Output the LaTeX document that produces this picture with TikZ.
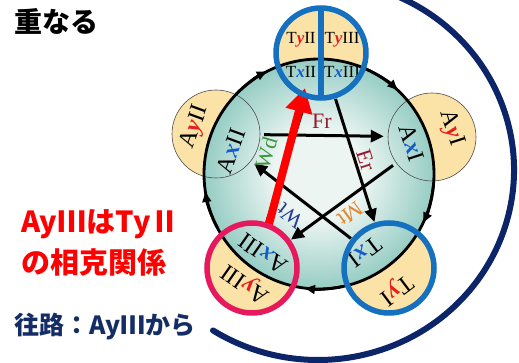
\documentclass[tikz,border=0pt]{standalone}
\usepackage{fontspec}
\setmainfont{Liberation Serif}
\newfontfamily\jp{Noto Sans CJK JP}
\usetikzlibrary{arrows.meta,calc}
\definecolor{yel}{RGB}{251,226,166}
\definecolor{tealin}{RGB}{236,245,242}
\definecolor{tealout}{RGB}{150,205,196}
\definecolor{ringblue}{RGB}{22,112,192}
\definecolor{ringpink}{RGB}{230,25,95}
\definecolor{navy}{RGB}{12,36,104}
\definecolor{xblue}{RGB}{20,90,200}
\definecolor{yred}{RGB}{230,30,30}
\definecolor{frred}{RGB}{150,25,45}
\definecolor{mtor}{RGB}{225,135,45}
\definecolor{wtblue}{RGB}{40,60,150}
\definecolor{wdgreen}{RGB}{60,150,60}
\definecolor{jpnavy}{RGB}{20,45,100}
\pgfdeclareradialshading{tealshade}{\pgfpoint{0bp}{0bp}}{color(0bp)=(tealin); color(10bp)=(tealin); color(25bp)=(tealout); color(50bp)=(tealout)}
\newcommand\lab[4]{#1{\color{#2}\bfseries\itshape #3}#4}
\begin{document}
\begin{tikzpicture}[x=1pt,y=1pt,
  hub/.style={circle,minimum size=96pt,inner sep=0pt},
  ctext/.style={font=\fontsize{24}{24}\selectfont,inner sep=0pt},
  ttext/.style={font=\fontsize{17}{17}\selectfont,inner sep=0pt},
  slab/.style={font=\fontsize{22}{22}\selectfont,inner sep=0pt},
  starline/.style={black,line width=3pt,-{Triangle[length=13pt,width=12pt]}},
  cycarrow/.style={black,line width=2.8pt,-{Latex[length=12pt,width=10pt]}},
  ring/.style={line width=5.5pt},
  thinc/.style={draw=black!70,line width=0.6pt},
  jptext/.style={font=\jp\bfseries,inner sep=0pt,anchor=west}]
\useasboundingbox (0,0) rectangle (519,362);
\fill[white] (0,0) rectangle (519,362);
% coordinates
\coordinate (C) at (319,188);
\coordinate (N) at (318,192);
\node[hub] (T) at (321,309) {};
\node[hub] (R) at (432,225) {};
\node[hub] (BR) at (389,94) {};
\node[hub] (BL) at (252,94) {};
\node[hub] (L) at (216,228) {};
% navy arc
\draw[navy,line width=6pt,line cap=round] ($(N)+(75:196 and 190)$) arc[start angle=75,end angle=-122.4,x radius=196,y radius=190];
% small circle fills
\foreach \n in {T,R,BR,BL,L} \fill[yel] (\n.center) circle (44);
% big circle
\shade[shading=tealshade] (C) circle (115);
% thin outlines
\foreach \n in {T,R,BR,BL,L} \draw[thinc] (\n.center) circle (44);
% big circle outline
\draw[black,line width=2.8pt] (C) circle (115);
\draw[cycarrow] (C) ++(136:115) arc[start angle=136,end angle=116,radius=115];
\draw[cycarrow] (C) ++(66:115) arc[start angle=66,end angle=46,radius=115];
\draw[cycarrow] (C) ++(-6:115) arc[start angle=-6,end angle=-26,radius=115];
\draw[cycarrow] (C) ++(-78:115) arc[start angle=-78,end angle=-98,radius=115];
\draw[cycarrow] (C) ++(208:115) arc[start angle=208,end angle=188,radius=115];
% star
\draw[starline] (L) -- (R);
\draw[starline] (T) -- (BR);
\draw[starline] (R) -- (BL);
\draw[starline] (BR) -- (L);
\draw[starline] (BL) -- (T);
% star labels
\node[slab,text=frred] (fr) at (322,241) {Fr};
\node[slab,text=frred,rotate=-72] (er) at (366,202) {Er};
\node[slab,text=mtor,rotate=216] (mt) at (350,148) {Mt};
\node[slab,text=wtblue,rotate=142] (wt) at (290,146) {Wt};
\node[slab,text=wdgreen,rotate=73] (wd) at (266,209) {Wd};
% circle texts
\node[ctext,rotate=70] (lx) at (231,211) {\lab{A}{xblue}{x}{II}};
\node[ctext,rotate=70] (ly) at (195,235) {\lab{A}{yred}{y}{II}};
\node[ctext,rotate=-72] (rx) at (412,219) {\lab{A}{xblue}{x}{I}};
\node[ctext,rotate=-72] (ry) at (451,234) {\lab{A}{yred}{y}{I}};
\node[ctext,rotate=-143] (brx) at (365,110) {\lab{T}{xblue}{x}{I}};
\node[ctext,rotate=-143] (bry) at (396,73) {\lab{T}{yred}{y}{I}};
\node[ctext,rotate=145] (blx) at (263,108) {\lab{A}{xblue}{x}{III}};
\node[ctext,rotate=145] (bly) at (246,79) {\lab{A}{yred}{y}{III}};
\node[ttext] (t1) at (301,322) {\lab{T}{yred}{y}{II}};
\node[ttext] (t2) at (342,322) {\lab{T}{yred}{y}{III}};
\node[ttext] (t3) at (301,290) {\lab{T}{xblue}{x}{II}};
\node[ttext] (t4) at (342,290) {\lab{T}{xblue}{x}{III}};
% red arrow
\coordinate (rs) at (269,138);
\coordinate (re) at (305,274);
\draw[red,line width=8pt,-{Triangle[length=24pt,width=26pt]}] (rs) -- (re);
% rings
\draw[ringblue,ring] (T.center) circle (45);
\draw[ringblue,ring] ($(T.center)+(0,45)$) -- ($(T.center)+(0,-45)$);
\draw[ringblue,ring] (BR.center) circle (45);
\draw[ringpink,ring] (BL.center) circle (45);
% japanese texts
\node[jptext,font=\jp\bfseries\fontsize{28}{28}\selectfont] (j1) at (14,340) {重なる};
\node[jptext,text=red,font=\jp\bfseries\fontsize{29}{29}\selectfont] (j2) at (21,138) {AyⅢはTyⅡ};
\node[jptext,text=red,font=\jp\bfseries\fontsize{29}{29}\selectfont] (j3) at (21,100) {の相克関係};
\node[jptext,text=jpnavy,font=\jp\bfseries\fontsize{25}{25}\selectfont] (j4) at (14,35) {往路：AyⅢから};
\end{tikzpicture}
\end{document}
